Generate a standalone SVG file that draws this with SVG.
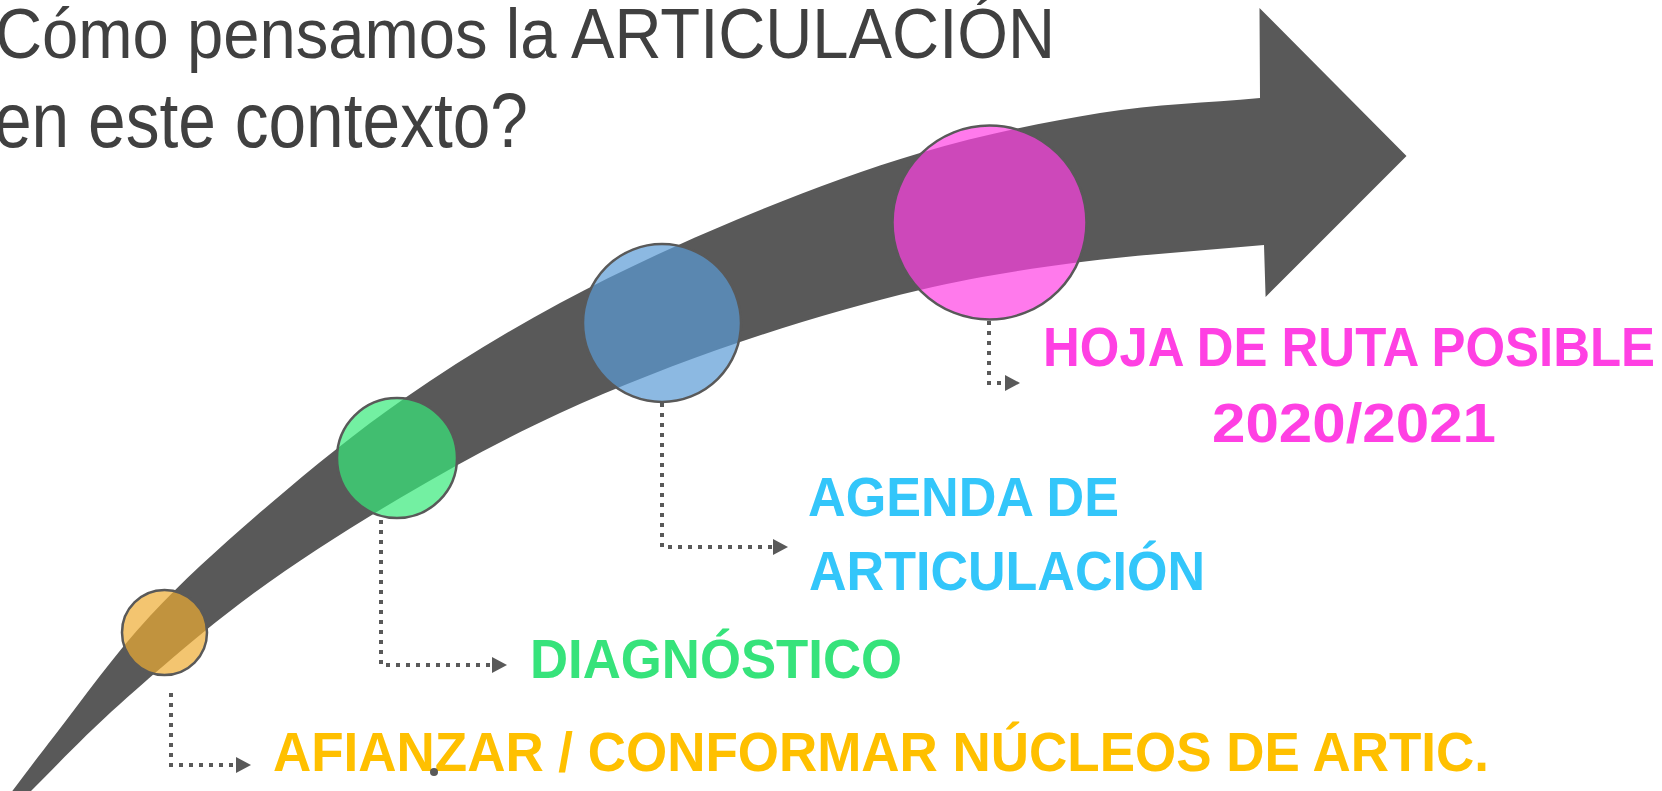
<svg xmlns="http://www.w3.org/2000/svg" width="1662" height="791" viewBox="0 0 1662 791">
  <defs>
    <style>
      .title { font-family: "Liberation Sans", Arial, sans-serif; fill: #404040; }
      .lbl { font-family: "Liberation Sans", Arial, sans-serif; font-weight: bold; font-size: 55px; }
      .node-circle { stroke: #595959; stroke-width: 2.5; fill-opacity: 0.7; }
      .conn { fill: none; stroke: #595959; stroke-width: 4; stroke-dasharray: 4 6; }
    </style>
    <marker id="arr" markerUnits="userSpaceOnUse" markerWidth="16" markerHeight="16" refX="0" refY="8" orient="auto">
      <path d="M0,0 L15,8 L0,16 Z" fill="#595959"/>
    </marker>
  </defs>
  <rect width="1662" height="791" fill="#ffffff"/>

  <g id="title">
    <text class="title" x="-5" y="58" font-size="71" textLength="1060" lengthAdjust="spacingAndGlyphs">Cómo pensamos la ARTICULACIÓN</text>
    <text class="title" x="-6" y="147" font-size="78" textLength="534" lengthAdjust="spacingAndGlyphs">en este contexto?</text>
  </g>

  <g id="big-arrow">
    <path fill="#595959" d="M -17,830
      C 7,798.3 27.2,770.7 55,735
      C 82.8,699.3 114.2,654.5 150,616
      C 185.8,577.5 227.5,540.3 270,504
      C 312.5,467.7 356.7,431.5 405,398
      C 453.3,364.5 504.8,332.7 560,303
      C 615.2,273.3 676,245 736,220
      C 796,195 859.3,170.8 920,153
      C 980.7,135.2 1043.3,122.2 1100,113
      C 1156.7,103.8 1206.7,103 1260,98
      L 1259.5,8 L 1406.5,156 L 1265.6,297 L 1264,245
      C 1203,250.7 1138.3,254.5 1081,262
      C 1023.7,269.5 976.8,276.7 920,290
      C 863.2,303.3 800,321.5 740,342
      C 680,362.5 616.7,387 560,413
      C 503.3,439 451.7,467.5 400,498
      C 348.3,528.5 296.7,561.7 250,596
      C 203.3,630.3 156.3,671.7 120,704
      C 83.7,736.3 53.3,769 32,790
      L -8,830 Z"/>
  </g>

  <g id="connectors">
    <path class="conn" d="M171,693 V765 H236" marker-end="url(#arr)"/>
    <path class="conn" d="M381,520 V665 H492" marker-end="url(#arr)"/>
    <path class="conn" d="M662,403 V547 H773" marker-end="url(#arr)"/>
    <path class="conn" d="M989,321 V383 H1005" marker-end="url(#arr)"/>
  </g>

  <g id="node-afianzar">
    <circle class="node-circle" cx="164.5" cy="632.5" r="42.5" fill="#EEAD33"/>
    <text class="lbl" x="273" y="771" fill="#FFC000" textLength="1216" lengthAdjust="spacingAndGlyphs">AFIANZAR / CONFORMAR NÚCLEOS DE ARTIC.</text>
    <circle cx="434" cy="772" r="4" fill="#595959"/>
  </g>

  <g id="node-diagnostico">
    <circle class="node-circle" cx="397" cy="458" r="60" fill="#38EA7B"/>
    <text class="lbl" x="530" y="678" fill="#36E37B" textLength="372" lengthAdjust="spacingAndGlyphs">DIAGNÓSTICO</text>
  </g>

  <g id="node-agenda">
    <circle class="node-circle" cx="662" cy="323" r="79" fill="#5B9BD5"/>
    <text class="lbl" x="808" y="516" fill="#33C6FA" textLength="311" lengthAdjust="spacingAndGlyphs">AGENDA DE</text>
    <text class="lbl" x="809" y="590" fill="#33C6FA" textLength="396" lengthAdjust="spacingAndGlyphs">ARTICULACIÓN</text>
  </g>

  <g id="node-hoja">
    <circle class="node-circle" cx="989.5" cy="222.5" r="97" fill="#FF42E4"/>
    <text class="lbl" x="1043" y="366" fill="#FF40E3" textLength="612" lengthAdjust="spacingAndGlyphs">HOJA DE RUTA POSIBLE</text>
    <text class="lbl" x="1212" y="442" fill="#FF40E3" textLength="284" lengthAdjust="spacingAndGlyphs">2020/2021</text>
  </g>
</svg>
